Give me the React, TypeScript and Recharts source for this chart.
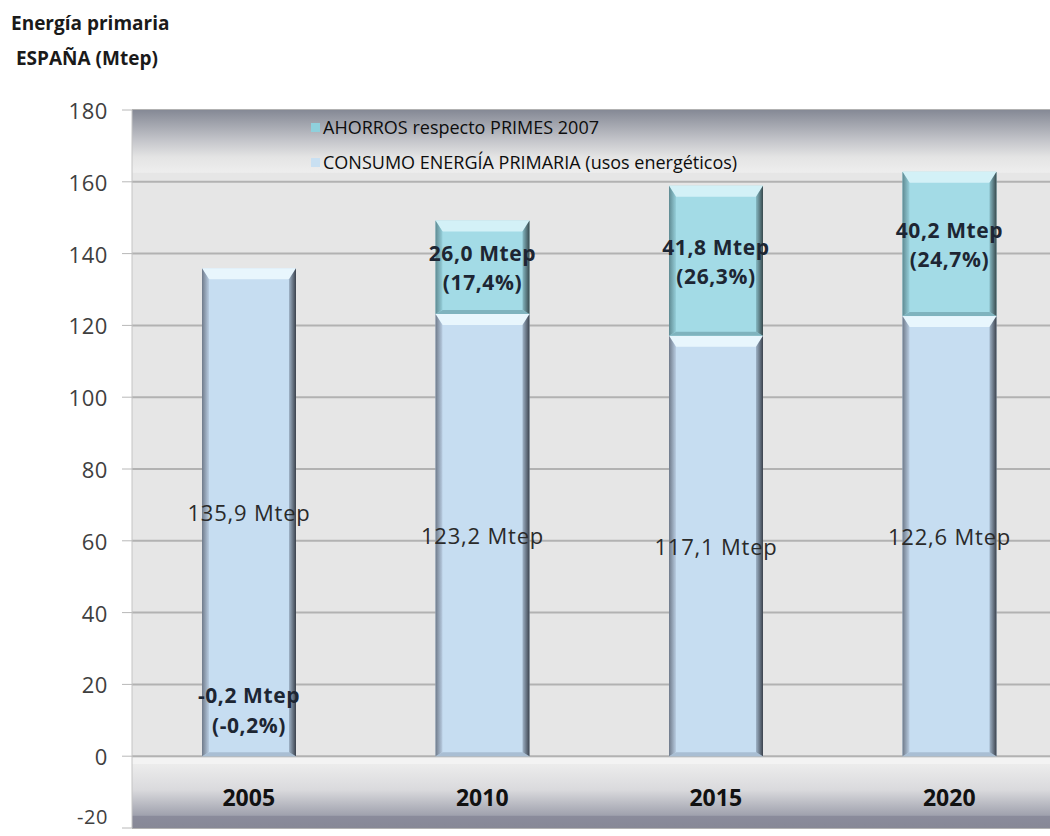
import React from 'react';
import { BarChart, Bar, XAxis, YAxis, CartesianGrid, ReferenceArea, LabelList } from 'recharts';

const years = ['2005', '2010', '2015', '2020'];
const consumo = [135.9, 123.2, 117.1, 122.6];
const ahorros = [-0.2, 26.0, 41.8, 40.2];
const ahorrosPct = [-0.2, 17.4, 26.3, 24.7];
const yTicks = [-20, 0, 20, 40, 60, 80, 100, 120, 140, 160, 180];
const titleLines = ['Energía primaria', ' ESPAÑA (Mtep)'];
const legendItems = [
  { name: 'AHORROS respecto PRIMES 2007', color: '#8fd0dc' },
  { name: 'CONSUMO ENERGÍA PRIMARIA (usos energéticos)', color: '#c9e0f2' },
];

const data = years.map((y, i) => ({ year: y, consumo: consumo[i], ahorros: ahorros[i], pct: ahorrosPct[i] }));
const fmt = (v: number) => v.toFixed(1).replace('.', ',');
const FONT = '"Open Sans", "DejaVu Sans", sans-serif';

type Bev = { main: string; top: string; bottom: string; id: string };

const makeBevel = (c: Bev) => (props: any) => {
  const { x, y, width, height } = props;
  if (Math.abs(height) < 2) return <g />;
  const h = Math.abs(height);
  const yy = height < 0 ? y + height : y;
  const b = 7;
  const r = x + width;
  const bt = yy + h;
  return (
    <g>
      <rect x={x} y={yy} width={width} height={h} fill={c.main} />
      <polygon points={`${x},${yy} ${r},${yy} ${r - b},${yy + b + 4} ${x + b},${yy + b + 4}`} fill={c.top} />
      <polygon points={`${x},${bt} ${r},${bt} ${r - b},${bt - 4} ${x + b},${bt - 4}`} fill={c.bottom} />
      <polygon points={`${x},${yy} ${x + b},${yy + b + 4} ${x + b},${bt - 4} ${x},${bt}`} fill={`url(#left-${c.id})`} />
      <polygon points={`${r},${yy} ${r - b},${yy + b + 4} ${r - b},${bt - 4} ${r},${bt}`} fill={`url(#right-${c.id})`} />
    </g>
  );
};

const consumoShape = makeBevel({ main: '#c6ddf1', top: '#e8f6fd', bottom: '#a9bed3', id: 'c' });
const ahorrosShape = makeBevel({ main: '#a3dbe6', top: '#d3f1f7', bottom: '#7fb3be', id: 'a' });

const boldLabel = { fontFamily: FONT, fontWeight: 700, fontSize: 21, letterSpacing: 0.6 };

const SavingsLabel = (props: any) => {
  const { x, y, width, height, index } = props;
  const v = ahorros[index];
  if (v < 0) return null;
  const cx = x + width / 2;
  const cy = y + height / 2;
  return (
    <g style={boldLabel} fill="#1d2633">
      <text x={cx} y={cy - 14} textAnchor="middle" dominantBaseline="central">{`${fmt(v)} Mtep`}</text>
      <text x={cx} y={cy + 15} textAnchor="middle" dominantBaseline="central">{`(${fmt(ahorrosPct[index])}%)`}</text>
    </g>
  );
};

const NegSavingsLabel = (props: any) => {
  const { x, y, width, height, index } = props;
  const v = ahorros[index];
  if (v >= 0) return null;
  const cx = x + width / 2;
  const bottom = y + height;
  return (
    <g style={boldLabel} fill="#1d2633">
      <text x={cx} y={bottom - 61} textAnchor="middle" dominantBaseline="central">{`${fmt(v)} Mtep`}</text>
      <text x={cx} y={bottom - 31} textAnchor="middle" dominantBaseline="central">{`(${fmt(ahorrosPct[index])}%)`}</text>
    </g>
  );
};

const ConsumoLabel = (props: any) => {
  const { x, y, width, height, index } = props;
  return (
    <text x={x + width / 2} y={y + height / 2} textAnchor="middle" dominantBaseline="central"
      style={{ fontFamily: FONT, fontSize: 22, letterSpacing: 0.8 }} fill="#2a2a2a">{`${fmt(consumo[index])} Mtep`}</text>
  );
};

const XTick = (props: any) => {
  const { x, y, payload } = props;
  return (
    <text x={x} y={y - 31} textAnchor="middle" dominantBaseline="central"
      style={{ fontFamily: FONT, fontSize: 23, fontWeight: 700 }} fill="#111">{payload.value}</text>
  );
};

const YTick = (props: any) => {
  const { x, y, payload } = props;
  const last = payload.value === -20;
  return (
    <text x={x} y={last ? y - 12 : y} textAnchor="end" dominantBaseline="central"
      style={{ fontFamily: FONT, fontSize: last ? 20 : 22, letterSpacing: 0.6 }} fill="#3f3f3f">{payload.value}</text>
  );
};

export default function App() {
  return (
    <div style={{ position: 'absolute', left: 0, top: 0, width: 1050, height: 836, overflow: 'hidden', background: '#fff' }}>
      <div style={{ position: 'absolute', left: 11, top: 6, fontFamily: FONT, fontWeight: 700, fontSize: 19, lineHeight: '35px', color: '#1a1a1a', whiteSpace: 'pre' }}>
        {titleLines.map((t) => <div key={t}>{t}</div>)}
      </div>
      <div style={{ position: 'absolute', left: 0, top: 0 }}>
        <BarChart width={1100} height={836} data={data} margin={{ top: 110, right: 34, bottom: 0, left: 0 }}>
          <defs>
            <linearGradient id="topBand" x1="0" y1="0" x2="0" y2="1">
              <stop offset="0" stopColor="#858995" />
              <stop offset="0.5" stopColor="#c6c7cc" />
              <stop offset="0.75" stopColor="#e4e4e4" />
              <stop offset="1" stopColor="#eeeeee" />
            </linearGradient>
            <linearGradient id="botBand" x1="0" y1="0" x2="0" y2="1">
              <stop offset="0" stopColor="#ececec" />
              <stop offset="0.4" stopColor="#dadadd" />
              <stop offset="0.8" stopColor="#a0a2ae" />
              <stop offset="0.82" stopColor="#8a8b9b" />
              <stop offset="1" stopColor="#878896" />
            </linearGradient>
            <linearGradient id="left-c" x1="0" y1="0" x2="1" y2="0">
              <stop offset="0" stopColor="#6f7a8a" />
              <stop offset="1" stopColor="#b9cde2" />
            </linearGradient>
            <linearGradient id="right-c" x1="0" y1="0" x2="1" y2="0">
              <stop offset="0" stopColor="#9fb3c7" />
              <stop offset="1" stopColor="#3b424d" />
            </linearGradient>
            <linearGradient id="left-a" x1="0" y1="0" x2="1" y2="0">
              <stop offset="0" stopColor="#5f8a92" />
              <stop offset="1" stopColor="#96cfda" />
            </linearGradient>
            <linearGradient id="right-a" x1="0" y1="0" x2="1" y2="0">
              <stop offset="0" stopColor="#86b9c3" />
              <stop offset="1" stopColor="#38494d" />
            </linearGradient>
          </defs>
          <CartesianGrid vertical={false} fill="#e6e6e6" stroke="#b2b2b2" strokeWidth={2} />
          <ReferenceArea y1={162.5} y2={180} fill="url(#topBand)" fillOpacity={1} stroke="none" />
          <ReferenceArea y1={-20} y2={-2.2} fill="url(#botBand)" fillOpacity={1} stroke="none" />
          <ReferenceArea y1={-2.2} y2={-0.4} fill="#f3f3f3" fillOpacity={1} stroke="none" />
          <XAxis dataKey="year" height={8} axisLine={false} tickLine={false} tickSize={0} tickMargin={0} tick={<XTick />} interval={0} />
          <YAxis width={132} domain={[-20, 180]} ticks={yTicks} interval={0} tickSize={10} tickMargin={14}
            axisLine={{ stroke: '#c4c4c4' }} tickLine={{ stroke: '#b8b8b8' }}
            tick={<YTick />} allowDataOverflow />
          <Bar dataKey="consumo" name={legendItems[1].name} stackId="s" barSize={94} shape={consumoShape} isAnimationActive={false}>
            <LabelList dataKey="consumo" content={<ConsumoLabel />} />
            <LabelList dataKey="ahorros" content={<NegSavingsLabel />} />
          </Bar>
          <Bar dataKey="ahorros" name={legendItems[0].name} stackId="s" barSize={94} shape={ahorrosShape} isAnimationActive={false}>
            <LabelList dataKey="ahorros" content={<SavingsLabel />} />
          </Bar>
        </BarChart>
      </div>
      <div style={{ position: 'absolute', left: 311, top: 110, fontFamily: FONT, fontSize: 18, color: '#0d0d0d', lineHeight: '35px' }}>
        {legendItems.map((it) => (
          <div key={it.name} style={{ display: 'flex', alignItems: 'center', whiteSpace: 'nowrap' }}>
            <span style={{ display: 'inline-block', width: 9, height: 9, background: it.color, marginRight: 3 }} />
            <span>{it.name}</span>
          </div>
        ))}
      </div>
    </div>
  );
}
